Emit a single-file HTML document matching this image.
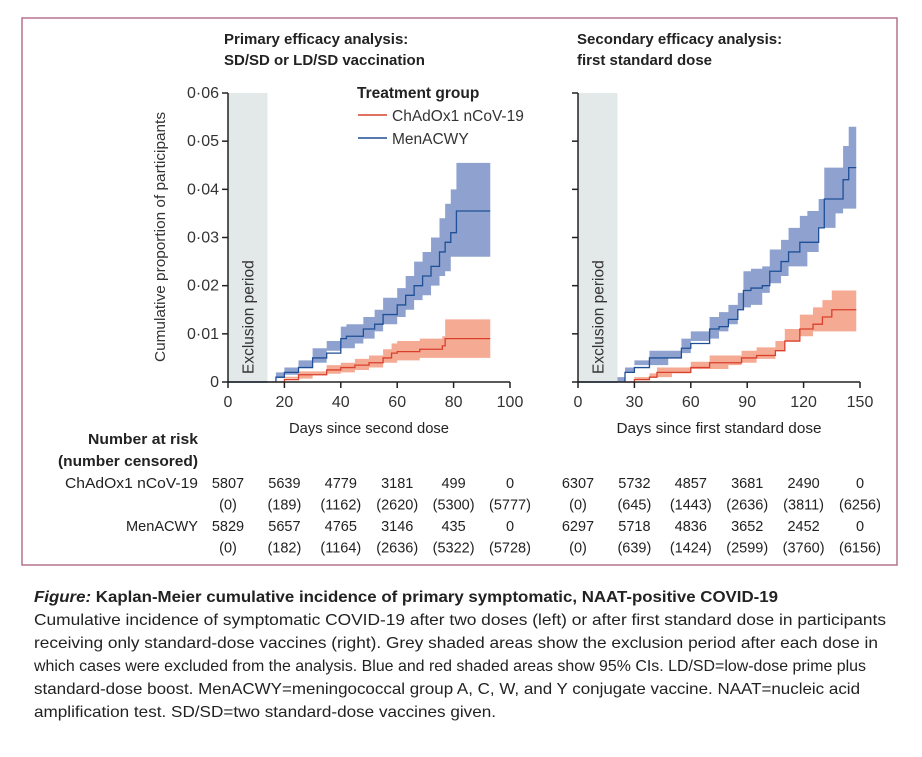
<!DOCTYPE html>
<html><head><meta charset="utf-8"><style>
body{margin:0;background:#fff}
svg{display:block;font-family:"Liberation Sans",sans-serif}
</style></head><body>
<svg id="fig" width="922" height="757" viewBox="0 0 922 757">
<rect x="22" y="18" width="875" height="547" fill="none" stroke="#b5728f" stroke-width="1.5"/>
<g id="plots"></g>
<g font-size="14.5" fill="#222">
<text x="198" y="444" text-anchor="end" font-weight="bold" textLength="110" lengthAdjust="spacingAndGlyphs">Number at risk</text>
<text x="198" y="466" text-anchor="end" font-weight="bold" textLength="140" lengthAdjust="spacingAndGlyphs">(number censored)</text>
<text x="198" y="488" text-anchor="end" textLength="133" lengthAdjust="spacingAndGlyphs">ChAdOx1 nCoV-19</text>
<text x="198" y="531" text-anchor="end" textLength="72" lengthAdjust="spacingAndGlyphs">MenACWY</text>
<g id="tbl"></g>
</g>
<g fill="#222" font-size="16">
<text x="34" y="602" font-weight="bold" textLength="744" lengthAdjust="spacingAndGlyphs"><tspan font-style="italic">Figure:</tspan> Kaplan-Meier cumulative incidence of primary symptomatic, NAAT-positive COVID-19</text>
<text x="34" y="625" textLength="852" lengthAdjust="spacingAndGlyphs">Cumulative incidence of symptomatic COVID-19 after two doses (left) or after first standard dose in participants</text>
<text x="34" y="648" textLength="844" lengthAdjust="spacingAndGlyphs">receiving only standard-dose vaccines (right). Grey shaded areas show the exclusion period after each dose in</text>
<text x="34" y="671" textLength="832" lengthAdjust="spacingAndGlyphs">which cases were excluded from the analysis. Blue and red shaded areas show 95% CIs. LD/SD=low-dose prime plus</text>
<text x="34" y="694" textLength="826" lengthAdjust="spacingAndGlyphs">standard-dose boost. MenACWY=meningococcal group A, C, W, and Y conjugate vaccine. NAAT=nucleic acid</text>
<text x="34" y="717" textLength="462" lengthAdjust="spacingAndGlyphs">amplification test. SD/SD=two standard-dose vaccines given.</text>
</g>
</svg>
<script>
// Left panel data
const leftBlueDays=[14,17,20,25,30,35,40,42,45,48,52,55,60,63,66,69,72,75,77,79,81,93];
const leftBlueVals=[0,0.001,0.002,0.003,0.005,0.006,0.009,0.0095,0.0095,0.011,0.012,0.014,0.016,0.018,0.020,0.022,0.024,0.027,0.029,0.031,0.0355,0.0355];
const leftBlueLo=[0,0,0.0008,0.0015,0.003,0.004,0.0065,0.007,0.007,0.008,0.009,0.0105,0.012,0.0135,0.015,0.017,0.018,0.020,0.022,0.023,0.026,0.026];
const leftBlueHi=[0,0.002,0.003,0.0045,0.007,0.0085,0.0115,0.012,0.012,0.0135,0.015,0.0175,0.0195,0.022,0.025,0.027,0.030,0.034,0.037,0.040,0.0455,0.0455];
const leftRedDays=[17,20,25,30,35,40,45,50,55,58,60,68,76,77,93];
const leftRedVals=[0,0.0005,0.0015,0.0015,0.0025,0.003,0.0035,0.004,0.005,0.006,0.0063,0.0068,0.0075,0.009,0.009];
const leftRedLo=[0,0,0.0007,0.0007,0.0014,0.0017,0.002,0.0025,0.003,0.004,0.004,0.0045,0.005,0.005,0.005];
const leftRedHi=[0,0.0011,0.0022,0.0022,0.0035,0.004,0.0048,0.0055,0.0068,0.008,0.0085,0.009,0.0095,0.013,0.013];
// Right panel data
const rightBlueDays=[21,25,30,38,48,55,60,70,75,80,85,88,92,98,102,108,112,118,122,128,131,137,141,144,148];
const rightBlueVals=[0,0.002,0.003,0.005,0.005,0.007,0.008,0.011,0.0115,0.013,0.015,0.019,0.0195,0.020,0.023,0.025,0.027,0.029,0.029,0.032,0.038,0.038,0.042,0.0445,0.0445];
const rightBlueLo=[0,0.001,0.002,0.0035,0.0035,0.005,0.006,0.0085,0.009,0.0105,0.012,0.015,0.0155,0.016,0.0185,0.0205,0.022,0.024,0.024,0.027,0.032,0.032,0.035,0.036,0.036];
const rightBlueHi=[0,0.003,0.0045,0.0065,0.0065,0.009,0.0105,0.0135,0.0145,0.016,0.0185,0.023,0.0235,0.024,0.0275,0.0295,0.032,0.0345,0.0355,0.038,0.0445,0.0445,0.049,0.053,0.053];
const rightRedDays=[25,30,38,42,50,60,70,80,87,95,105,110,118,125,130,135,148];
const rightRedVals=[0,0.0005,0.001,0.002,0.002,0.003,0.004,0.004,0.005,0.0055,0.0065,0.0085,0.011,0.012,0.0135,0.015,0.015];
const rightRedLo=[0,0,0.0004,0.001,0.001,0.0018,0.0027,0.0027,0.0035,0.004,0.0048,0.0065,0.0085,0.0095,0.0105,0.0105,0.0105];
const rightRedHi=[0,0.001,0.0018,0.003,0.003,0.0042,0.0055,0.0055,0.0065,0.0072,0.0085,0.011,0.014,0.0155,0.017,0.019,0.019];
const yTicks=[0,0.01,0.02,0.03,0.04,0.05,0.06];
const yTickLabels=["0","0·01","0·02","0·03","0·04","0·05","0·06"];
const leftXTicks=[0,20,40,60,80,100];
const rightXTicks=[0,30,60,90,120,150];
const leftRisk=[["5807","5639","4779","3181","499","0"],["(0)","(189)","(1162)","(2620)","(5300)","(5777)"],["5829","5657","4765","3146","435","0"],["(0)","(182)","(1164)","(2636)","(5322)","(5728)"]];
const rightRisk=[["6307","5732","4857","3681","2490","0"],["(0)","(645)","(1443)","(2636)","(3811)","(6256)"],["6297","5718","4836","3652","2452","0"],["(0)","(639)","(1424)","(2599)","(3760)","(6156)"]];

const NS="http://www.w3.org/2000/svg";
function mk(parent,tag,attrs,txt){const e=document.createElementNS(NS,tag);for(const k in attrs)e.setAttribute(k,attrs[k]);if(txt!==undefined)e.textContent=txt;parent.appendChild(e);return e;}
const plots=document.getElementById('plots');
const Y0=382,Y1=93;
function yS(v){return Y0-(v/0.06)*(Y0-Y1);}
function stepPath(days,vals,xS){let d='M'+xS(days[0])+','+yS(vals[0]);for(let i=1;i<days.length;i++){d+=' H'+xS(days[i])+' V'+yS(vals[i]);}return d;}
function bandPath(days,lo,hi,xS){let d='M'+xS(days[0])+','+yS(hi[0]);for(let i=1;i<days.length;i++){d+=' H'+xS(days[i])+' V'+yS(hi[i]);}
 d+=' V'+yS(lo[lo.length-1]);for(let i=days.length-1;i>0;i--){d+=' V'+yS(lo[i])+' H'+xS(days[i-1]);}d+=' V'+yS(lo[0])+'Z';return d;}

function panel(opt){
 const g=mk(plots,'g',{});
 
 
 const xS=d=>opt.x0+d/opt.xmax*(opt.x1-opt.x0);
 const ex=mk(g,'rect',{x:xS(0),y:Y1,width:xS(opt.excl)-xS(0),height:Y0-Y1,fill:'#e3e9e9'});
 
 
 const et=mk(g,'text',{transform:`translate(${xS(0)+(xS(opt.excl)-xS(0))/2+6},${Y0-8}) rotate(-90)`,'font-size':15.5,fill:'#333'},'Exclusion period');
 
 
 const b1=mk(g,'path',{d:bandPath(opt.bd,opt.blo,opt.bhi,xS),fill:'#8fa2cf'});
 
 
 const b2=mk(g,'path',{d:bandPath(opt.rd,opt.rlo,opt.rhi,xS),fill:'#f5aa94'});
 
 
 const base=mk(g,'line',{x1:xS(0),x2:xS(opt.bd[0]),y1:Y0,y2:Y0,stroke:'#1f4f96','stroke-width':1.5});
 
 
 const l2=mk(g,'path',{d:stepPath(opt.rd,opt.rv,xS),fill:'none',stroke:'#d9402c','stroke-width':1.3});
 
 
 const l1=mk(g,'path',{d:stepPath(opt.bd,opt.bv,xS),fill:'none',stroke:'#1f4f96','stroke-width':1.3});
 
 
 const ya=mk(g,'line',{x1:xS(0),x2:xS(0),y1:Y1,y2:Y0,stroke:'#222','stroke-width':1.5});
 
 
 const xa=mk(g,'line',{x1:xS(0),x2:opt.x1,y1:Y0,y2:Y0,stroke:'#222','stroke-width':1.5});
 
 
 yTicks.forEach((t,i)=>{
  const tk=mk(g,'line',{x1:xS(0)-6,x2:xS(0),y1:yS(t),y2:yS(t),stroke:'#222','stroke-width':1.5});
  
  
  if(opt.ylabels){
   const tl=mk(g,'text',{x:xS(0)-9,y:yS(t)+5,'text-anchor':'end','font-size':16,fill:'#333'},yTickLabels[i]);
   
   
  }
 });
 opt.xt.forEach(t=>{
  const tk=mk(g,'line',{x1:xS(t),x2:xS(t),y1:Y0,y2:Y0+6,stroke:'#222','stroke-width':1.5});
  
  
  const tl=mk(g,'text',{x:xS(t),y:Y0+25,'text-anchor':'middle','font-size':16,fill:'#333'},String(t));
  
  
 });
 const xt=mk(g,'text',{x:(xS(0)+opt.x1)/2,y:433,'text-anchor':'middle','font-size':15,fill:'#222',textLength:opt.xtl,lengthAdjust:'spacingAndGlyphs'},opt.xtitle);
 
 
 opt.title.forEach((s,i)=>{
  const t=mk(g,'text',{x:opt.tx,y:44+i*21,'font-size':15,'font-weight':'bold',fill:'#222'},s);
  
  
 });
 const tbl=document.getElementById('tbl');
 opt.risk.forEach((row,r)=>row.forEach((v,c)=>{
  const t=mk(tbl,'text',{x:xS(opt.xt[c]),y:488+r*21.5,'text-anchor':'middle'},v);
  
  
 }));
}
panel({name:'primary-efficacy-panel',x0:228,x1:510,xmax:100,excl:14,bd:leftBlueDays,bv:leftBlueVals,blo:leftBlueLo,bhi:leftBlueHi,rd:leftRedDays,rv:leftRedVals,rlo:leftRedLo,rhi:leftRedHi,xt:leftXTicks,ylabels:true,xtitle:'Days since second dose',xtl:160,title:['Primary efficacy analysis:','SD/SD or LD/SD vaccination'],tx:224,risk:leftRisk});
panel({name:'secondary-efficacy-panel',x0:578,x1:860,xmax:150,excl:21,bd:rightBlueDays,bv:rightBlueVals,blo:rightBlueLo,bhi:rightBlueHi,rd:rightRedDays,rv:rightRedVals,rlo:rightRedLo,rhi:rightRedHi,xt:rightXTicks,ylabels:false,xtitle:'Days since first standard dose',xtl:205,title:['Secondary efficacy analysis:','first standard dose'],tx:577,risk:rightRisk});
const yt=mk(plots,'text',{transform:'translate(165,237) rotate(-90)','text-anchor':'middle','font-size':15,fill:'#333',textLength:250,lengthAdjust:'spacingAndGlyphs'},'Cumulative proportion of participants');


const lg=mk(plots,'g',{});


const lt=mk(lg,'text',{x:357,y:98,'font-size':15.5,'font-weight':'bold',fill:'#222'},'Treatment group');


const le1=mk(lg,'line',{x1:358,x2:387,y1:115,y2:115,stroke:'#d9402c','stroke-width':1.5});


const lx1=mk(lg,'text',{x:392,y:121,'font-size':15.5,fill:'#333'},'ChAdOx1 nCoV-19');


const le2=mk(lg,'line',{x1:358,x2:387,y1:138,y2:138,stroke:'#1f4f96','stroke-width':1.5});


const lx2=mk(lg,'text',{x:392,y:144,'font-size':15.5,fill:'#333'},'MenACWY');


</script>
</body></html>
